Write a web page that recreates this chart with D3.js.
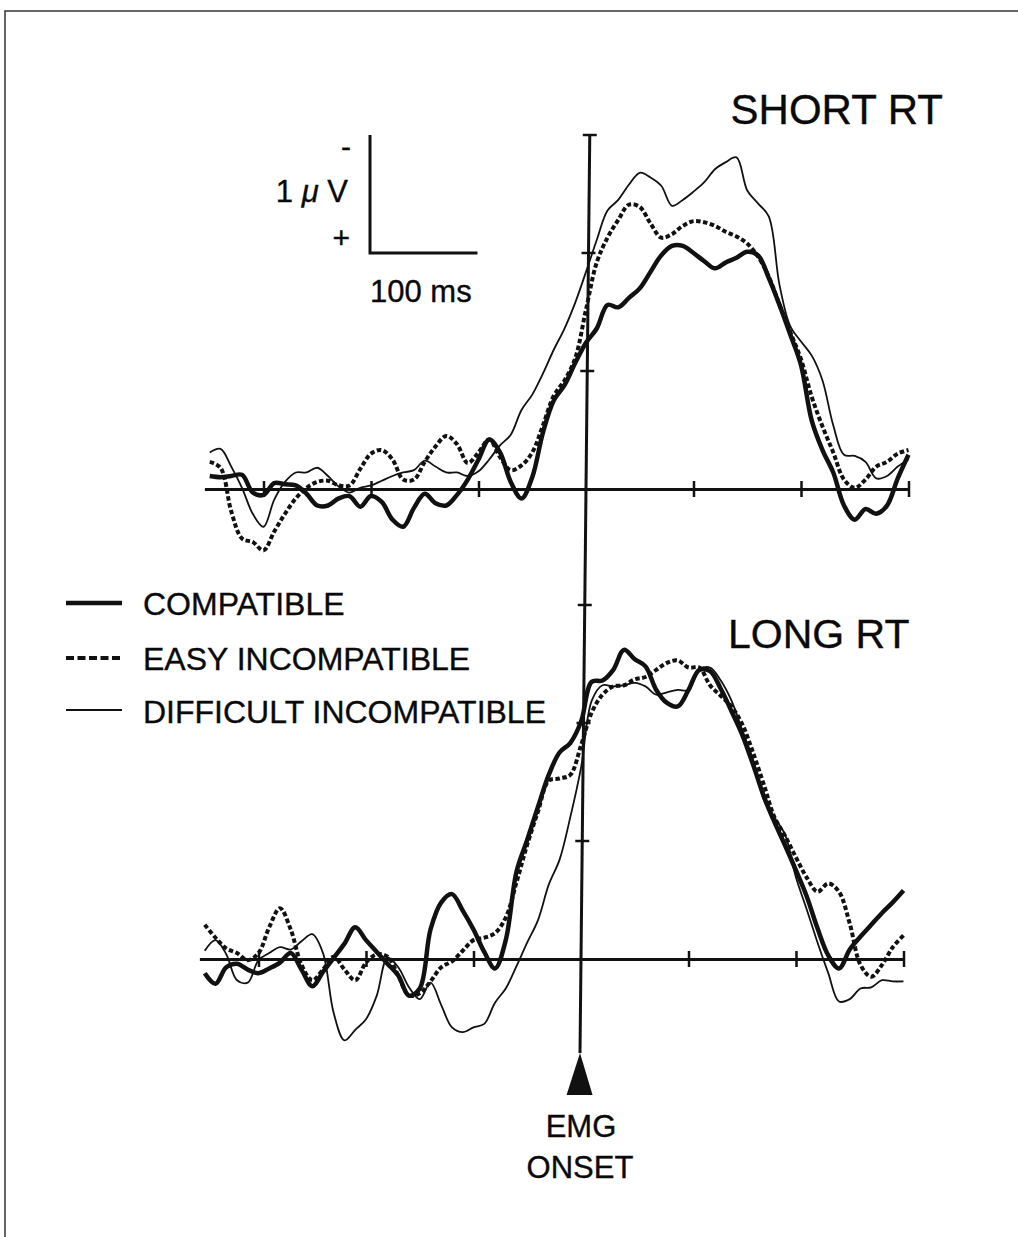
<!DOCTYPE html>
<html lang="en">
<head>
<meta charset="UTF-8">
<title>EMG-locked traces, short and long RT</title>
<script src="https://d3js.org/d3.v7.min.js"></script>
<style>
  body { margin: 0; background: #fff; }
  svg text { font-family: "Liberation Sans", Arial, Helvetica, sans-serif; fill: #0a0a0a; stroke: #0a0a0a; stroke-width: 0.35px; }
</style>
</head>
<body>
<script>
// time (ms) relative to EMG onset
var times = [-350,-340,-330,-320,-310,-300,-290,-280,-270,-260,
             -250,-240,-230,-220,-210,-200,-190,-180,-170,-160,
             -150,-140,-130,-120,-110,-100,-90,-80,-70,-60,
             -50,-40,-30,-20,-10,0,10,20,30,40,
             50,60,70,80,90,100,110,120,130,140,
             150,160,170,180,190,200,210,220,230,240,
             250,260,270,280,290,300];

var conditions = ["COMPATIBLE", "EASY INCOMPATIBLE", "DIFFICULT INCOMPATIBLE"];
var panelNames = ["SHORT RT", "LONG RT"];

// amplitudes in µV (negative plotted up)
var shortCompatible = [-0.11,-0.10,-0.11,-0.12,0.03,0.05,-0.05,-0.04,-0.03,0.04,
  0.14,0.14,0.08,0.06,0.15,0.06,0.11,0.26,0.32,0.16,
  0.04,0.12,0.14,0.05,-0.08,-0.25,-0.42,-0.31,-0.06,0.08,
  -0.10,-0.48,-0.75,-0.88,-1.07,-1.24,-1.36,-1.56,-1.54,-1.62,
  -1.70,-1.84,-1.98,-2.06,-2.06,-2.00,-1.93,-1.87,-1.92,-1.96,
  -2.01,-1.98,-1.79,-1.56,-1.31,-1.05,-0.58,-0.33,-0.14,0.14,
  0.26,0.17,0.21,0.14,-0.09,-0.29];
var shortEasy = [-0.23,-0.18,0.19,0.42,0.45,0.52,0.36,0.21,0.08,-0.01,
  -0.06,-0.07,-0.03,-0.03,-0.17,-0.30,-0.33,-0.25,-0.08,-0.08,
  -0.23,-0.36,-0.45,-0.38,-0.22,-0.31,-0.42,-0.27,-0.16,-0.20,
  -0.31,-0.54,-0.79,-0.92,-1.11,-1.52,-1.92,-2.13,-2.28,-2.41,
  -2.39,-2.25,-2.13,-2.16,-2.23,-2.27,-2.26,-2.23,-2.18,-2.14,
  -2.08,-1.97,-1.80,-1.56,-1.33,-1.10,-0.78,-0.53,-0.31,-0.08,
  -0.01,-0.08,-0.19,-0.23,-0.30,-0.33];
var shortDifficult = [-0.31,-0.34,-0.19,-0.01,0.21,0.32,0.09,-0.06,-0.14,-0.14,
  -0.18,-0.11,-0.02,0.03,-0.01,-0.03,-0.07,-0.11,-0.14,-0.16,
  -0.24,-0.19,-0.14,-0.14,-0.11,-0.15,-0.25,-0.37,-0.46,-0.67,
  -0.80,-0.98,-1.18,-1.36,-1.58,-1.84,-2.11,-2.36,-2.45,-2.58,
  -2.68,-2.64,-2.57,-2.40,-2.45,-2.52,-2.60,-2.71,-2.77,-2.81,
  -2.53,-2.42,-2.31,-1.73,-1.38,-1.25,-1.13,-0.92,-0.54,-0.29,
  -0.28,-0.23,-0.09,-0.11,-0.19,-0.25];

var longCompatible = [0.12,0.21,0.07,0.04,0.09,0.12,0.08,0.03,-0.05,0.09,
  0.23,0.11,-0.01,-0.13,-0.27,-0.16,-0.06,0.04,0.14,0.31,
  0.25,-0.25,-0.48,-0.55,-0.41,-0.25,-0.06,0.08,-0.16,-0.74,
  -1.01,-1.29,-1.56,-1.75,-1.83,-2.01,-2.35,-2.36,-2.45,-2.62,
  -2.54,-2.48,-2.28,-2.17,-2.14,-2.28,-2.45,-2.44,-2.29,-2.10,
  -1.90,-1.65,-1.38,-1.16,-0.96,-0.75,-0.53,-0.26,-0.03,0.08,
  -0.08,-0.19,-0.29,-0.39,-0.48,-0.58];
var longEasy = [-0.29,-0.18,-0.09,-0.05,0.01,-0.05,-0.27,-0.43,-0.25,0.05,
  0.18,0.09,-0.02,0.09,0.18,0.03,-0.04,-0.02,0.14,0.31,
  0.29,0.19,0.07,0.02,-0.07,-0.16,-0.18,-0.22,-0.35,-0.65,
  -0.97,-1.25,-1.51,-1.53,-1.56,-1.81,-2.09,-2.24,-2.31,-2.32,
  -2.37,-2.39,-2.45,-2.51,-2.53,-2.47,-2.47,-2.32,-2.23,-2.14,
  -1.99,-1.75,-1.48,-1.20,-1.04,-0.86,-0.69,-0.57,-0.64,-0.57,
  -0.30,0.05,0.15,0.05,-0.10,-0.20];
var longDifficult = [-0.07,-0.16,-0.04,0.18,0.20,0.01,-0.05,-0.10,-0.08,-0.15,
  -0.21,-0.05,0.46,0.69,0.60,0.51,0.31,-0.01,0.07,0.24,
  0.34,0.20,0.39,0.58,0.62,0.58,0.55,0.37,0.25,0.06,
  -0.14,-0.33,-0.63,-0.84,-1.20,-1.62,-2.19,-2.32,-2.31,-2.32,
  -2.34,-2.31,-2.24,-2.26,-2.28,-2.28,-2.45,-2.47,-2.36,-2.19,
  -1.94,-1.69,-1.35,-1.20,-1.05,-0.69,-0.42,-0.14,0.12,0.36,
  0.34,0.25,0.24,0.18,0.19,0.19];

var xTicks = [-300, -200, -100, 100, 200, 300];
var yTicks = [-1, -2, -3];

var width = 1018, height = 1237;
var msPx = 1.075, uvPx = 118;
var ink = "#111";

var svg = d3.select("body").append("svg")
    .attr("width", width)
    .attr("height", height);

// scanned page frame
svg.append("rect")
    .attr("x", 5).attr("y", 11)
    .attr("width", 1040).attr("height", 1260)
    .attr("fill", "none").attr("stroke", "#333").attr("stroke-width", 1.5);

var panels = [
    { name: panelNames[0], zeroX: 586, zeroY: 489, series: [shortCompatible, shortEasy, shortDifficult], labelX: 943, labelY: 124, anchor: "end", size: 42 },
    { name: panelNames[1], zeroX: 581, zeroY: 959, series: [longCompatible, longEasy, longDifficult], labelX: 728, labelY: 648, anchor: "start", size: 41 }
];
var styles = [
    { w: 4.5, dash: null, legendDash: null },
    { w: 4, dash: "4.5,2.5", legendDash: "8,3.5" },
    { w: 1.8, dash: null, legendDash: null }
];

panels.forEach(function(p) {
    p.x = d3.scaleLinear().domain([-355, 300]).range([p.zeroX - 355 * msPx, p.zeroX + 300 * msPx]);
    p.y = d3.scaleLinear().domain([-3, 1]).range([p.zeroY - 3 * uvPx, p.zeroY + uvPx]);
});

// the EMG onset line is slightly slanted on the page
var axisX = d3.scaleLinear().domain([panels[0].zeroY, panels[1].zeroY]).range([panels[0].zeroX, panels[1].zeroX]);

panels.forEach(function(p) {
    var g = svg.append("g").attr("transform", "translate(0," + p.zeroY + ")");
    var axis = d3.axisBottom(p.x).tickValues(xTicks).tickSize(8).tickSizeOuter(0).tickFormat("");
    g.call(axis);
    g.select(".domain").attr("stroke", ink).attr("stroke-width", 3);
    g.selectAll(".tick line").attr("y1", -8).attr("y2", 8).attr("stroke", ink).attr("stroke-width", 2.5);

    // ticks on the onset line
    svg.selectAll(null)
        .data(yTicks)
        .enter()
        .append("line")
        .attr("x1", d => axisX(p.y(d)) - 7)
        .attr("x2", d => axisX(p.y(d)) + 7)
        .attr("y1", d => p.y(d))
        .attr("y2", d => p.y(d))
        .attr("stroke", ink)
        .attr("stroke-width", 2.5);

    var line = d3.line()
        .x((d, i) => p.x(times[i]))
        .y(d => p.y(d))
        .curve(d3.curveCatmullRom.alpha(0.5));

    p.series.forEach(function(s, k) {
        svg.append("path")
            .attr("d", line(s))
            .attr("fill", "none")
            .attr("stroke", ink)
            .attr("stroke-width", styles[k].w)
            .attr("stroke-dasharray", styles[k].dash)
            .attr("stroke-linejoin", "round");
    });

    svg.append("text")
        .attr("x", p.labelX)
        .attr("y", p.labelY)
        .attr("text-anchor", p.anchor)
        .style("font-size", p.size + "px")
        .text(p.name);
});

// vertical EMG onset line with arrow
var topY = panels[0].y(-3), apexY = 1053, baseY = 1095;
svg.append("line")
    .attr("x1", axisX(topY)).attr("y1", topY)
    .attr("x2", axisX(apexY)).attr("y2", apexY)
    .attr("stroke", ink).attr("stroke-width", 3);
svg.append("path")
    .attr("d", "M" + axisX(apexY) + "," + apexY + "L" + (axisX(baseY) - 13) + "," + baseY + "L" + (axisX(baseY) + 13) + "," + baseY + "Z")
    .attr("fill", ink);
svg.append("text").attr("x", 581).attr("y", 1137).attr("text-anchor", "middle").style("font-size", "31px").text("EMG");
svg.append("text").attr("x", 580).attr("y", 1178).attr("text-anchor", "middle").style("font-size", "31px").text("ONSET");

// calibration bar: 1 µV by 100 ms
var cal = panels[0];
var calX = 370;
svg.append("path")
    .attr("d", "M" + calX + "," + cal.y(-3) + "V" + cal.y(-2) + "H" + (calX + 100 * msPx))
    .attr("fill", "none").attr("stroke", ink).attr("stroke-width", 3);
svg.append("text").attr("x", 351).attr("y", 157).attr("text-anchor", "end").style("font-size", "30px").text("-");
var uv = svg.append("text").attr("x", 348).attr("y", 202).attr("text-anchor", "end").style("font-size", "31px");
uv.append("tspan").text("1 ");
uv.append("tspan").style("font-style", "italic").text("\u03bc");
uv.append("tspan").text(" V");
svg.append("text").attr("x", 350).attr("y", 248).attr("text-anchor", "end").style("font-size", "30px").text("+");
svg.append("text").attr("x", 370).attr("y", 302).style("font-size", "31px").text("100 ms");

// legend
var legendY = [603, 658, 710];
var legendText = [615, 670, 723];
conditions.forEach(function(c, k) {
    svg.append("line")
        .attr("x1", 66).attr("x2", 122)
        .attr("y1", legendY[k]).attr("y2", legendY[k])
        .attr("stroke", ink)
        .attr("stroke-width", styles[k].w)
        .attr("stroke-dasharray", styles[k].legendDash);
    svg.append("text")
        .attr("x", 143).attr("y", legendText[k])
        .style("font-size", "32px")
        .text(c);
});
</script>
</body>
</html>
